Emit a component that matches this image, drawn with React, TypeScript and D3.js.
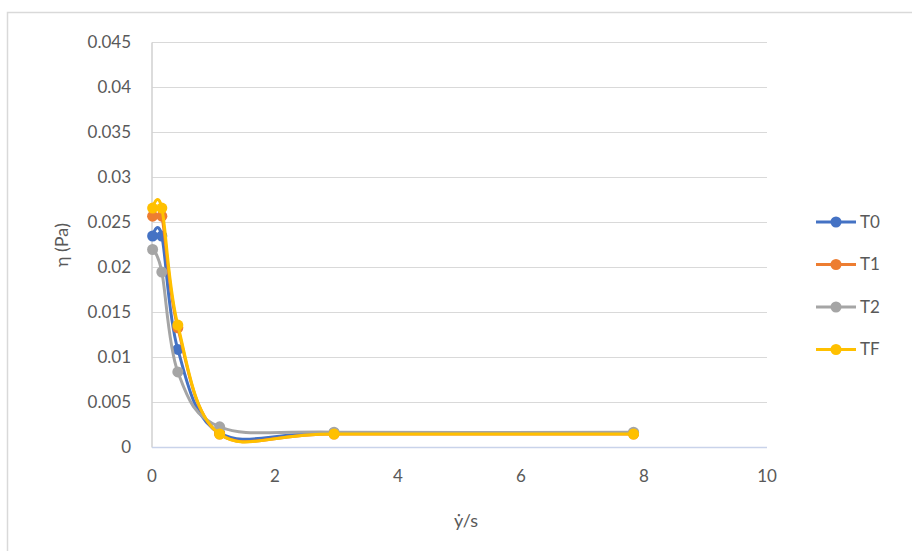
import React from "react";
import * as d3 from "d3";

const shearRates = [0.01, 0.16, 0.42, 1.1, 2.96, 7.83];
const seriesNames = ["T0", "T1", "T2", "TF"];
const seriesColors = ["#4472C4", "#ED7D31", "#A5A5A5", "#FFC000"];
const t0Values = [0.0235, 0.0235, 0.0109, 0.0016, 0.0016, 0.0016];
const t1Values = [0.0257, 0.0257, 0.0133, 0.0015, 0.0015, 0.0015];
const t2Values = [0.022, 0.0195, 0.0084, 0.0023, 0.0017, 0.0017];
const tfValues = [0.0266, 0.0266, 0.0136, 0.0015, 0.0015, 0.0015];
const yTicks = [0, 0.005, 0.01, 0.015, 0.02, 0.025, 0.03, 0.035, 0.04, 0.045];
const xTicks = [0, 2, 4, 6, 8, 10];
const yTitle = "η (Pa)";
const xTitle = "ẏ/s";

const W = 912;
const H = 551;
const FONT = "Lato, 'Open Sans', sans-serif";

export default function App() {
  const x = d3.scaleLinear().domain([0, 10]).range([152, 767]);
  const y = d3.scaleLinear().domain([0, 0.045]).range([447.5, 42.5]);
  const allSeries = [t0Values, t1Values, t2Values, tfValues];
  const line = d3
    .line<[number, number]>()
    .x((d) => x(d[0]))
    .y((d) => y(d[1]))
    .curve(d3.curveCardinal.tension(0));

  const legendX = 816;
  const legendY0 = 222;
  const legendStep = 42.5;

  return (
    <svg
      width={W}
      height={H}
      style={{ position: "absolute", left: 0, top: 0, background: "#fff" }}
    >
      <rect x={0} y={0} width={W} height={H} fill="#fff" />
      <rect x={7.5} y={12.5} width={1000} height={1000} fill="none" stroke="#d9d9d9" strokeWidth={1.5} />
      {yTicks.map((t) => (
        <g key={t}>
          {t > 0 && (
            <line x1={x(0)} x2={x(10)} y1={y(t)} y2={y(t)} stroke="#d9d9d9" strokeWidth={1} />
          )}
          <text
            x={131}
            y={y(t)}
            dy="0.35em"
            textAnchor="end"
            fontFamily={FONT}
            fontSize={17}
            fill="#595959"
          >
            {t === 0 ? "0" : String(t)}
          </text>
        </g>
      ))}
      <line x1={x(0)} x2={x(0)} y1={y(0)} y2={y(0.045)} stroke="#d0d0d0" strokeWidth={1.5} />
      <line x1={x(0)} x2={x(10)} y1={y(0)} y2={y(0)} stroke="#c9d3ea" strokeWidth={1.5} />
      {xTicks.map((t) => (
        <text
          key={t}
          x={x(t)}
          y={476}
          dy="0.35em"
          textAnchor="middle"
          fontFamily={FONT}
          fontSize={17}
          fill="#595959"
        >
          {t}
        </text>
      ))}
      <text
        transform={`translate(62, ${y(0.0225)}) rotate(-90)`}
        textAnchor="middle"
        dy="0.35em"
        fontFamily={FONT}
        fontSize={18}
        fill="#595959"
      >
        {yTitle}
      </text>
      <text
        x={466}
        y={521}
        dy="0.35em"
        textAnchor="middle"
        fontFamily={FONT}
        fontSize={18}
        fill="#595959"
      >
        {xTitle}
      </text>
      {allSeries.map((vals, i) => {
        const pts: [number, number][] = shearRates.map((s, j) => [s, vals[j]]);
        return (
          <g key={seriesNames[i]}>
            <path d={line(pts) || ""} fill="none" stroke={seriesColors[i]} strokeWidth={3} strokeLinejoin="round" />
            {pts.map((p, j) => (
              <circle key={j} cx={x(p[0])} cy={y(p[1])} r={5.5} fill={seriesColors[i]} />
            ))}
          </g>
        );
      })}
      {seriesNames.map((n, i) => {
        const ly = legendY0 + i * legendStep;
        return (
          <g key={n}>
            <line x1={legendX} x2={legendX + 40} y1={ly} y2={ly} stroke={seriesColors[i]} strokeWidth={3} />
            <circle cx={legendX + 20} cy={ly} r={5.5} fill={seriesColors[i]} />
            <text x={legendX + 44} y={ly} dy="0.35em" fontFamily={FONT} fontSize={17} fill="#595959">
              {n}
            </text>
          </g>
        );
      })}
    </svg>
  );
}
